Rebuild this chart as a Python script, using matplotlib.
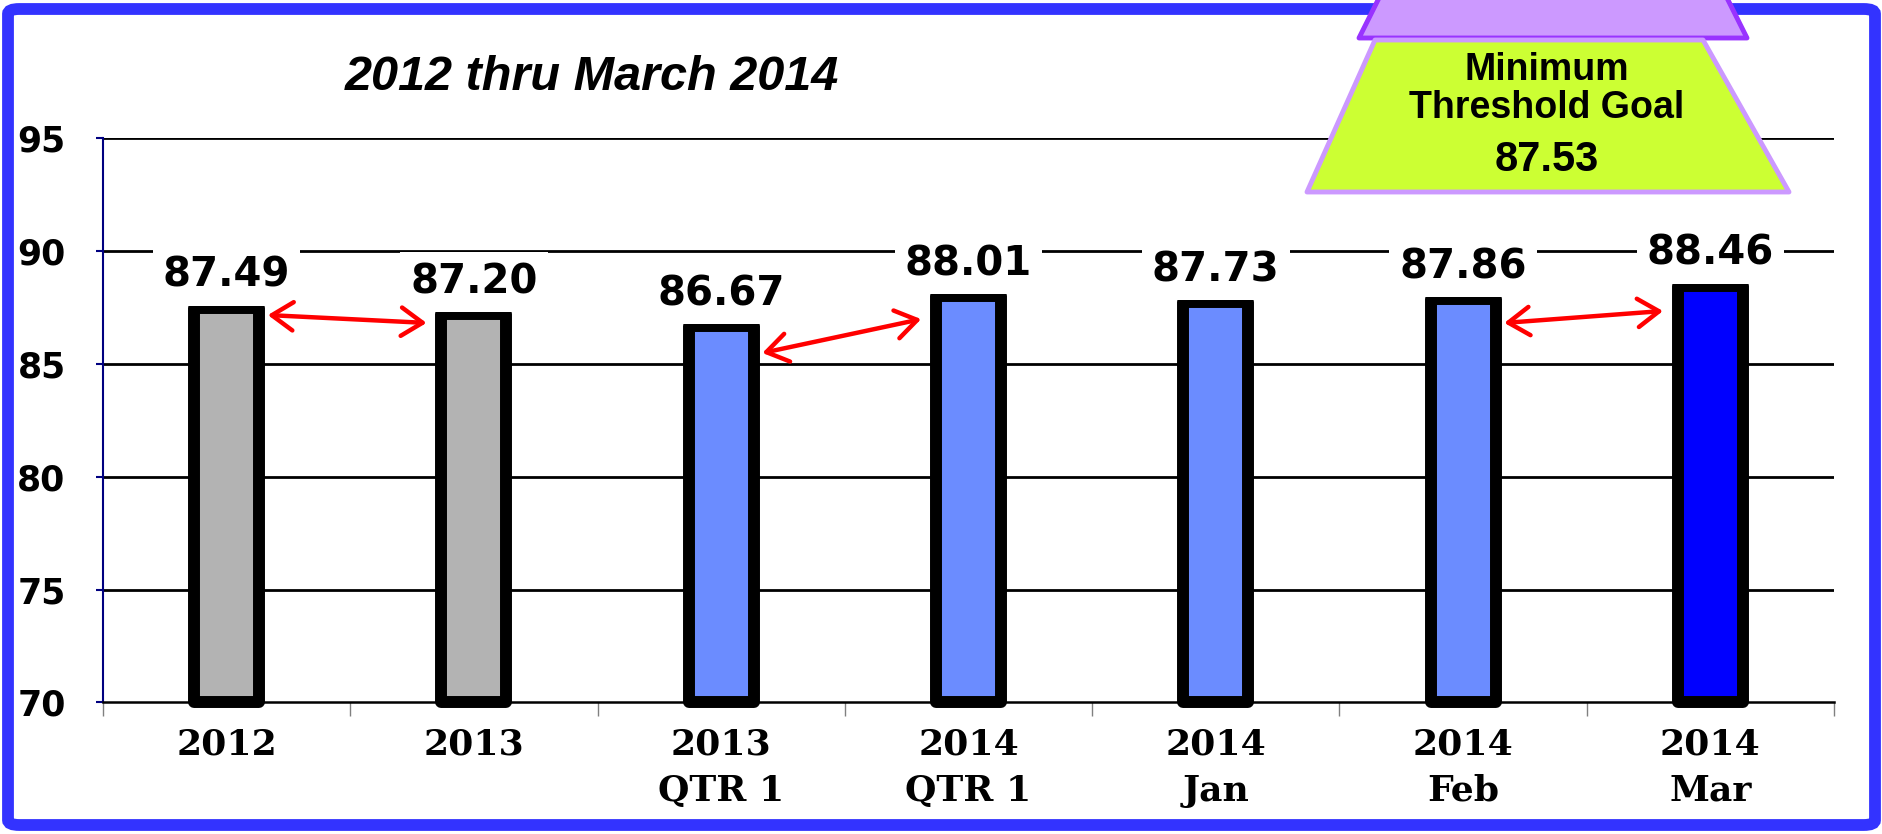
#!/usr/bin/env python

import numpy as np
import matplotlib
matplotlib.use("Agg")
import matplotlib.pyplot as plt
from matplotlib.patches import Polygon, FancyBboxPatch

# data
categories = ["2012", "2013", "2013\nQTR 1", "2014\nQTR 1", "2014\nJan", "2014\nFeb", "2014\nMar"]
values = [87.49, 87.20, 86.67, 88.01, 87.73, 87.86, 88.46]
bar_colors = ["#B3B3B3", "#B3B3B3", "#6B8CFF", "#6B8CFF", "#6B8CFF", "#6B8CFF", "#0000FF"]
yticks = [70, 75, 80, 85, 90, 95]
title = "2012 thru March 2014"
goal_label = "Minimum\nThreshold Goal"
goal_value = 87.53
# comparison arrows: (from bar, to bar, y at start, y at end)
arrows = [(0, 1, 87.16, 86.81), (2, 3, 85.48, 86.98), (5, 6, 86.81, 87.34)]


def main():
    fig = plt.figure(figsize=(18.83, 8.34), dpi=100)
    ax = fig.add_axes([0.0547, 0.1577, 0.974 - 0.0547, 0.8345 - 0.1577])

    x = np.arange(len(values))
    ax.bar(x, np.array(values) - 70, bottom=70, width=0.263, color=bar_colors,
           edgecolor="black", linewidth=8.6, joinstyle="round", zorder=3, clip_on=False)

    ax.set_xlim(-0.5, len(values) - 0.5)
    ax.set_ylim(70, 95)

    for yv in yticks[1:]:
        ax.axhline(yv, color="black", linewidth=2, zorder=1)

    # value labels with white box that cuts the gridline
    for i, v in enumerate(values):
        ax.annotate("%.2f" % v, (i, v), xytext=(0, 15), textcoords="offset points",
                    ha="center", va="baseline", fontsize=29, fontweight="bold",
                    family="DejaVu Sans", zorder=4,
                    bbox=dict(boxstyle="square,pad=0.25", fc="white", ec="none"))

    half = 0.263 / 2
    for a, b, y0, y1 in arrows:
        ax.annotate("", xy=(b - half - 0.06, y1), xytext=(a + half + 0.035, y0),
                    arrowprops=dict(arrowstyle="<->,head_length=0.45,head_width=0.3",
                                    color="red", lw=3.2, mutation_scale=34,
                                    shrinkA=0, shrinkB=0), zorder=5)

    # axes styling
    ax.spines["top"].set_visible(False)
    ax.spines["right"].set_visible(False)
    ax.spines["left"].set_color("#000080")
    ax.spines["left"].set_linewidth(1.5)
    ax.spines["bottom"].set_color("black")
    ax.spines["bottom"].set_linewidth(1.8)

    ax.set_yticks(yticks)
    ax.set_yticklabels([str(t) for t in yticks], fontsize=25, fontweight="bold",
                       family="DejaVu Sans")
    ax.tick_params(axis="y", length=5, width=1.5, color="#000080", pad=22)

    ax.set_xticks(x)
    ax.set_xticklabels(categories, fontsize=26, fontweight="bold", family="DejaVu Serif",
                       linespacing=1.45, va="top")
    ax.tick_params(axis="x", which="major", length=0, pad=18)
    ax.set_xticks(np.arange(len(values) + 1) - 0.5, minor=True)
    ax.tick_params(axis="x", which="minor", length=10, width=1, color="#808080")

    fig.text(592 / 1883, 1 - 78 / 834, title, ha="center", va="center", fontsize=35,
             fontweight="bold", style="italic", family="Liberation Sans")

    # blue frame
    frame = FancyBboxPatch((8 / 1883, 9 / 834), 1867 / 1883, 816 / 834,
                           boxstyle="round,pad=0,rounding_size=0.006",
                           transform=fig.transFigure, fill=False, ec="#3333FF",
                           lw=8.5, zorder=10)
    fig.patches.append(frame)

    # goal callout (purple cap + green trapezoid)
    def fx(px):
        return px / 1883

    def fy(py):
        return 1 - py / 834

    cap = Polygon([(fx(1359), fy(38)), (fx(1747), fy(38)), (fx(1718), fy(-20)), (fx(1388), fy(-20))],
                  closed=True, transform=fig.transFigure, fc="#CC99FF", ec="#9933FF",
                  lw=3.5, joinstyle="round", zorder=11)
    fig.patches.append(cap)
    goal = Polygon([(fx(1375), fy(40)), (fx(1703), fy(40)), (fx(1789), fy(192)), (fx(1307), fy(192))],
                   closed=True, transform=fig.transFigure, fc="#CCFF33", ec="#CC99FF",
                   lw=3.5, joinstyle="round", zorder=12)
    fig.patches.append(goal)
    fig.text(fx(1547), fy(89), goal_label, ha="center", va="center", fontsize=27,
             fontweight="bold", family="Liberation Sans", linespacing=1.05, zorder=13)
    fig.text(fx(1547), fy(160), "%.2f" % goal_value, ha="center", va="center", fontsize=30,
             fontweight="bold", family="Liberation Sans", zorder=13)

    plt.savefig("out.png", dpi=100)
    plt.close(fig)


if __name__ == "__main__":
    main()
